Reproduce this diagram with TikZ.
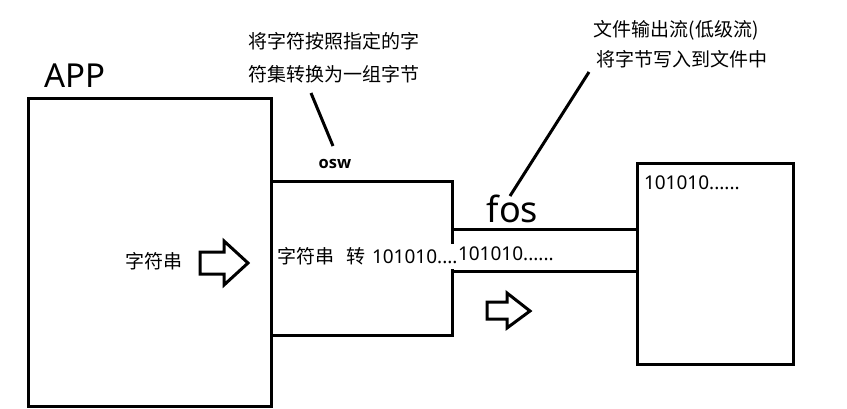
\documentclass[tikz,border=0pt]{standalone}
\usepackage{fontspec}
\setmainfont{Noto Sans}
\newfontfamily\cjk{Noto Sans CJK SC}
\newfontfamily\oswfont{Open Sans}
\begin{document}
\begin{tikzpicture}[x=1pt,y=-1pt,
  ln/.style={line width=3pt, line join=miter},
  txt/.style={inner sep=0pt, outer sep=0pt, text=black},
  cn/.style={txt, font=\cjk\fontsize{19}{23}\selectfont},
  ln19/.style={txt, font=\fontsize{19}{23}\selectfont}]
\useasboundingbox (0,0) rectangle (847,408);
% boxes
\draw[ln] (28,98) rectangle (271,406);
\draw[ln] (271,181) -- (452,181) -- (452,244);
\draw[ln] (452,269) -- (452,335) -- (271,335);
\draw[ln] (452,229) -- (637,229);
\draw[ln] (452,271) -- (637,271);
\draw[ln] (637,163) rectangle (793,364);
% block arrows
\draw[ln] (200,252) -- (224,252) -- (224,241) -- (248,263) -- (224,285) -- (224,274) -- (200,274) -- cycle;
\draw[ln] (487,302) -- (507,302) -- (507,293) -- (530,311) -- (507,328) -- (507,319) -- (487,319) -- cycle;
% texts
\node[txt, font=\fontsize{33}{40}\selectfont] (app) at (75,75.5) {APP};
\node[cn] (a1) at (334,41.5) {将字符按照指定的字};
\node[cn] (a2) at (334,74) {符集转换为一组字节};
\node[txt, font=\oswfont\bfseries\fontsize{16.5}{20}\selectfont] (osw) at (335,163.5) {osw};
\node[cn] (b1) at (676,30.5) {文件输出流(低级流)};
\node[cn] (b2) at (682,59.5) {将字节写入到文件中};
\node[txt, font=\fontsize{36}{44}\selectfont] (fos) at (512.5,209) {fos};
\node[ln19, anchor=west] (ft) at (644,183) {101010......};
\node[cn] (s1) at (154,261.5) {字符串};
\node[cn, anchor=west] (s2) at (277,256.5) {字符串\hspace{13pt}转\hspace{6pt}{\fontspec{Noto Sans}101010....}};
\node[ln19, anchor=west] (s3) at (458,254) {101010......};
% leader lines
\coordinate (l1a) at (311,93);
\coordinate (l1b) at (333,146);
\coordinate (l2a) at (589,72);
\coordinate (l2b) at (510,196);
\draw[ln] (l1a) -- (l1b);
\draw[ln] (l2a) -- (l2b);
\end{tikzpicture}
\end{document}
